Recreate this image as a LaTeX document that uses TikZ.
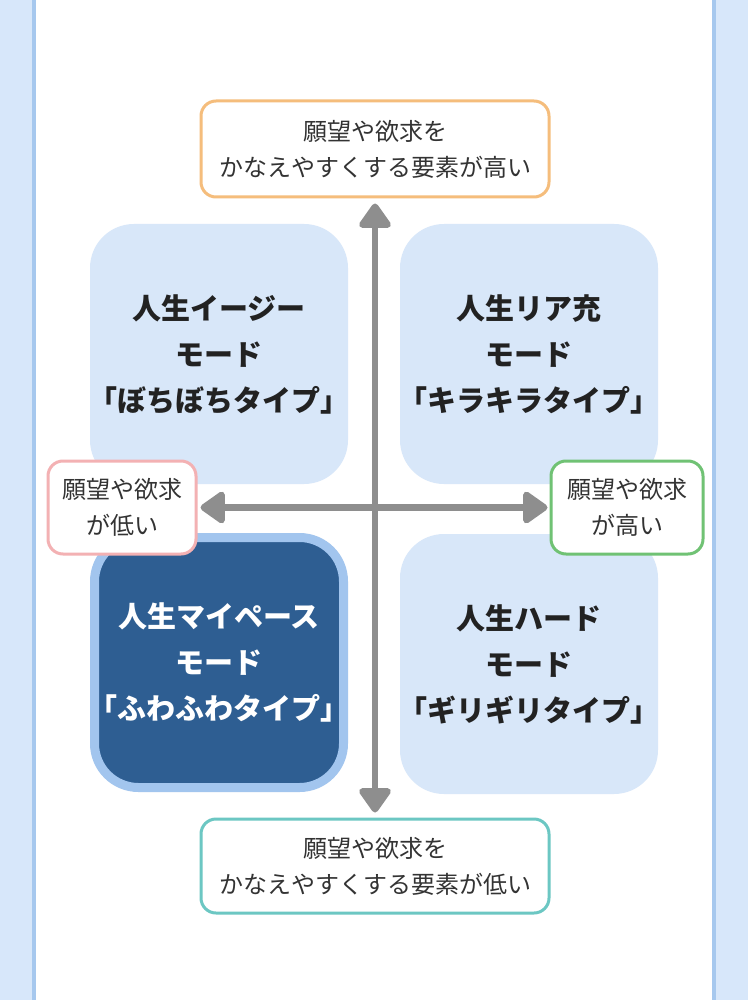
\documentclass[tikz,border=0pt]{standalone}
\usepackage{fontspec}
\setmainfont{Noto Sans CJK JP}
\usetikzlibrary{arrows.meta}
\definecolor{striplight}{HTML}{D7E7FA}
\definecolor{stripdark}{HTML}{A6C8EE}
\definecolor{quadlight}{HTML}{D8E7F9}
\definecolor{quaddark}{HTML}{2E5E92}
\definecolor{quadborder}{HTML}{A2C5EE}
\definecolor{orangeb}{HTML}{F5BD7C}
\definecolor{tealb}{HTML}{6CC7C3}
\definecolor{pinkb}{HTML}{F3B1B3}
\definecolor{greenb}{HTML}{70C274}
\definecolor{arrowgray}{HTML}{8E8E8E}
\definecolor{txt}{HTML}{333333}
\definecolor{titletxt}{HTML}{222222}
\newcommand{\lbr}{\makebox[0.45em][r]{「}}
\newcommand{\rbr}{\makebox[0.45em][l]{」}}
\tikzset{
  quad/.style={fill=quadlight, rounded corners=44pt, minimum width=258pt, minimum height=260pt,
    inner sep=0pt, align=center, text=titletxt, font=\fontsize{29}{46}\selectfont\bfseries},
  quadsel/.style={quad, fill=quaddark, draw=quadborder, line width=9pt, text=white,
    minimum width=249pt, minimum height=250pt},
  lbl/.style={draw, fill=white, line width=3pt, rounded corners=15pt, align=center, inner sep=0pt,
    text=txt, font=\fontsize{24}{36}\selectfont},
  axis/.style={draw=arrowgray, line width=6.5pt, {Triangle[round, length=27pt, width=36pt]}-{Triangle[round, length=27pt, width=36pt]}},
}
\begin{document}
\begin{tikzpicture}[x=1pt,y=-1pt]
\useasboundingbox (0,0) rectangle (748,1000);
\fill[white] (0,0) rectangle (748,1000);
\fill[striplight] (0,0) rectangle (32,1000);
\fill[stripdark] (32,0) rectangle (36,1000);
\fill[stripdark] (712,0) rectangle (716,1000);
\fill[striplight] (716,0) rectangle (748,1000);

\node[quad] (tl) at (219,354) {人生イージー\\モード\\\lbr ぼちぼちタイプ\rbr};
\node[quad] (tr) at (529,354) {人生リア充\\モード\\\lbr キラキラタイプ\rbr};
\node[quadsel] (bl) at (219,662.5) {人生マイペース\\モード\\\lbr ふわふわタイプ\rbr};
\node[quad] (br) at (529,664) {人生ハード\\モード\\\lbr ギリギリタイプ\rbr};

\node[lbl, draw=orangeb, minimum width=348pt, minimum height=96pt] (top) at (375,149) {願望や欲求を\\かなえやすくする要素が高い};
\node[lbl, draw=tealb, minimum width=348pt, minimum height=94pt] (bottom) at (375,866) {願望や欲求を\\かなえやすくする要素が低い};
\node[lbl, draw=pinkb, minimum width=148pt, minimum height=93pt] (left) at (122,507.5) {願望や欲求\\が低い};
\node[lbl, draw=greenb, minimum width=152pt, minimum height=93pt] (right) at (627,507.5) {願望や欲求\\が高い};

\draw[axis, shorten <=5pt, shorten >=5pt] (top.south) -- (bottom.north);
\draw[axis, shorten <=3pt, shorten >=2pt] (left.east) -- (right.west);
\end{tikzpicture}
\end{document}
